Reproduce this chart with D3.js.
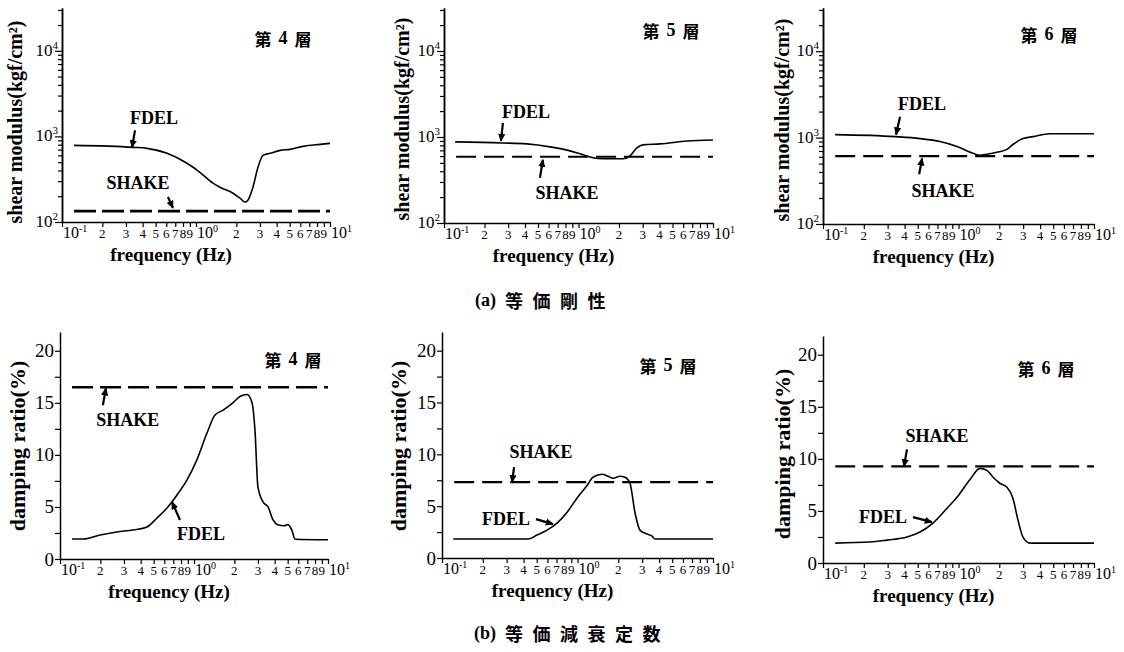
<!DOCTYPE html>
<html><head><meta charset="utf-8">
<script src="https://cdn.jsdelivr.net/npm/d3@7"></script>
<style>
body{margin:0;background:#fff;}
svg{display:block;background:#fff;}
text{font-family:"Liberation Serif","Times New Roman",serif;fill:#000;}
.cjk{font-family:"Noto Sans CJK JP","Noto Sans CJK SC",sans-serif;}
</style></head><body>
<svg id="c" width="1124" height="652"></svg>
<script>
// ---------------- DATA ----------------
const layerNumbers = ["4", "5", "6"];
const layerWord = ["第", "層"];
const groupTitles = [["(a)", "等価剛性"], ["(b)", "等価減衰定数"]];
const modulusLabel = "shear modulus(kgf/cm²)";
const dampingLabel = "damping ratio(%)";
const freqLabel = "frequency (Hz)";

const xTickValues = [0.1,0.2,0.3,0.4,0.5,0.6,0.7,0.8,0.9,1,2,3,4,5,6,7,8,9,10];
const xTickLabels = ["10^-1","2","3","4","5","6","7","8","9","10^0","2","3","4","5","6","7","8","9","10^1"];
const modulusMajorTicks = [100, 1000, 10000];
const modulusMajorLabels = ["10^2", "10^3", "10^4"];
const modulusMinorTicks = [200,300,400,500,600,700,800,900,2000,3000,4000,5000,6000,7000,8000,9000,20000,30000];
const dampingTicks = [0,2.5,5,7.5,10,12.5,15,17.5,20];
const dampingTickLabels = ["0","","5","","10","","15","","20"];

// shear modulus (kgf/cm2), FDEL
const modFreq4 = [0.123,0.339,0.431,0.608,0.857,1.07,1.34,1.51,1.89,2.13,2.32,2.44,2.66,2.90,3.16,3.57,4.24,5.03,6.29,8.42,10];
const modFdel4 = [785,745,725,634,485,381,284,255,217,190,171,180,255,436,601,634,687,706,765,807,829];
const modFreq5 = [0.121,0.270,0.414,0.614,0.865,1.08,1.28,1.52,2.14,2.42,2.72,3.02,4.04,6.41,10];
const modFdel5 = [877,853,831,768,690,621,574,559,559,605,748,809,831,900,924];
const modFreq6 = [0.123,0.340,0.520,0.730,0.975,1.28,1.44,1.62,1.92,2.28,2.52,2.99,3.55,4.73,7.0,10];
const modFdel6 = [1082,1026,974,901,790,658,624,641,676,731,832,974,1026,1110,1110,1110];
// shear modulus, SHAKE (constant)
const modShake = [134, 589, 609];

// damping ratio (%), FDEL
const dampFreq4 = [0.123,0.149,0.199,0.266,0.351,0.446,0.530,0.629,0.747,0.887,1.05,1.25,1.43,1.65,1.95,2.20,2.49,2.71,2.85,3.0,3.27,3.57,3.89,4.2,4.7,5.0,5.4,5.67,10];
const dampFdel4 = [1.92,1.92,2.31,2.60,2.79,3.08,3.94,4.90,6.15,7.60,9.52,12.1,13.8,14.3,15.0,15.6,15.8,15.0,12.4,6.92,5.48,5.0,3.75,3.3,3.2,3.3,2.7,1.9,1.85];
const dampFreq5 = [0.121,0.431,0.503,0.596,0.706,0.838,0.991,1.18,1.30,1.52,1.68,1.83,2.06,2.24,2.44,2.66,2.89,3.26,3.55,3.73,10];
const dampFdel5 = [1.83,1.83,2.21,2.69,3.37,4.42,5.77,7.02,7.79,8.08,7.88,7.69,7.88,7.79,7.21,4.33,2.69,2.31,2.12,1.83,1.83];
const dampFreq6 = [0.123,0.222,0.297,0.417,0.520,0.648,0.823,0.975,1.22,1.44,1.62,1.80,2.02,2.28,2.52,2.75,2.99,3.37,10];
const dampFdel6 = [1.91,2.01,2.20,2.49,2.97,3.83,5.26,6.32,8.04,9.09,8.90,8.23,7.66,7.27,6.22,4.11,2.49,1.91,1.91];
// damping ratio, SHAKE (constant)
const dampShake = [16.5, 7.31, 9.28];
const shakeFreqRange = [0.123, 10];

// arrow anchors (data space): [FDEL, SHAKE]
const modNotes = [
  [{f:0.333, v:745}, {f:0.673, v:146}],
  [{f:0.265, v:900}, {f:0.544, v:544}],
  [{f:0.346, v:1082}, {f:0.539, v:577}]
];
const dampNotes = [
  [{f:0.685, v:5.48}, {f:0.220, v:16.4}],
  [{f:0.659, v:3.27}, {f:0.329, v:7.31}],
  [{f:0.637, v:3.92}, {f:0.396, v:9.28}]
];

// ---------------- LAYOUT ----------------
const topBoxes = [
  {left:62, right:330, top:8, bottom:222, ylab:[15,122], title:[283,38],
   notes:[{tail:[3,-17], lab:[22,-29]}, {tail:[-5,-11], lab:[-35,-25]}], dash:"22,6", dw:2.8},
  {left:444, right:713, top:8, bottom:223, ylab:[402,119], title:[671,30],
   notes:[{tail:[2,-18], lab:[25,-29]}, {tail:[-3,18], lab:[24,33]}], dash:"20,8", dw:2.2},
  {left:823, right:1094, top:8, bottom:224, ylab:[782,120], title:[1049,34],
   notes:[{tail:[4,-18], lab:[26,-31]}, {tail:[-3,16], lab:[21,33]}], dash:"20,8", dw:2.2}
];
const botBoxes = [
  {left:60, right:328, top:332, bottom:559, ylab:[17,446], title:[293,359],
   notes:[{tail:[8,18], lab:[29,32]}, {tail:[-3,17], lab:[22,32]}], dash:"21,7", dw:2.5},
  {left:442, right:713, top:332, bottom:558, ylab:[398,446], title:[668,365],
   notes:[{tail:[-17,-5], lab:[-47,-5]}, {tail:[2,-15], lab:[29,-30]}], dash:"20,8", dw:2.2},
  {left:823, right:1094, top:336, bottom:563, ylab:[782,454], title:[1046,368],
   notes:[{tail:[-19,-5], lab:[-49,-5]}, {tail:[3,-17], lab:[33,-30]}], dash:"20,8", dw:2.2}
];

// ---------------- DRAW ----------------
const svg = d3.select("#c");
svg.append("defs").append("marker")
  .attr("id","ah").attr("viewBox","0 0 10 10").attr("refX",9).attr("refY",5)
  .attr("markerWidth",8).attr("markerHeight",8).attr("markerUnits","userSpaceOnUse")
  .attr("orient","auto")
  .append("path").attr("d","M0,0.5 L10,5 L0,9.5 Z").attr("fill","#000");

function powerText(sel, str, supSize, supDy) {
  const parts = str.split("^");
  sel.append("tspan").text(parts[0]);
  if (parts.length > 1) sel.append("tspan").attr("dy", -supDy).attr("font-size", supSize).text(parts[1]);
}

function styleAxis(g) {
  g.attr("font-family", null).attr("font-size", null);
  g.selectAll("path.domain").attr("stroke","#000").attr("stroke-width",1.5);
  g.selectAll(".tick line").attr("stroke","#000").attr("stroke-width",1.2);
  g.selectAll(".tick text").remove();
}

function drawXAxis(g, x, b) {
  const ax = g.append("g").attr("transform",`translate(0,${b.bottom})`)
    .call(d3.axisBottom(x).tickValues(xTickValues).tickSize(5).tickSizeOuter(0));
  styleAxis(ax);
  xTickValues.forEach((v,i) => {
    const lab = xTickLabels[i];
    const t = g.append("text").attr("y", b.bottom + 16);
    if (lab.indexOf("^") >= 0) {
      t.attr("x", x(v) + 1).attr("text-anchor","start").attr("font-size",16);
      powerText(t, lab, 10, 6);
    } else {
      t.attr("x", x(v)).attr("text-anchor","middle").attr("font-size",13).text(lab);
    }
  });
  g.append("text").attr("x", (b.left+b.right)/2 - 25).attr("y", b.bottom + 32)
    .attr("text-anchor","middle").attr("dominant-baseline","central")
    .attr("font-size",19).attr("font-weight","bold").text(freqLabel);
}

function drawCurves(g, x, y, freqs, vals, shakeVal, b) {
  const pts = freqs.map((f,i) => ({f:f, v:vals[i]}));
  const line = d3.line().x(d => x(d.f)).y(d => y(d.v)).curve(d3.curveMonotoneX);
  g.append("path").datum(pts).attr("d", line)
    .attr("fill","none").attr("stroke","#000").attr("stroke-width",1.6);
  const sh = shakeFreqRange.map(f => ({f:f, v:shakeVal}));
  g.append("path").datum(sh).attr("d", d3.line().x(d => x(d.f)).y(d => y(d.v)))
    .attr("fill","none").attr("stroke","#000").attr("stroke-width",b.dw)
    .attr("stroke-dasharray", b.dash);
}

function drawNotes(g, x, y, notes, b) {
  const names = ["FDEL","SHAKE"];
  notes.forEach((n,i) => {
    const tx = x(n.f), ty = y(n.v);
    const o = b.notes[i];
    g.append("line").attr("x1", tx + o.tail[0]).attr("y1", ty + o.tail[1])
      .attr("x2", tx).attr("y2", ty)
      .attr("stroke","#000").attr("stroke-width",2.2).attr("marker-end","url(#ah)");
    g.append("text").attr("x", tx + o.lab[0]).attr("y", ty + o.lab[1])
      .attr("text-anchor","middle").attr("dominant-baseline","central")
      .attr("font-size",18).attr("font-weight","bold").text(names[i]);
  });
}

function drawTitle(g, b, i) {
  const t = g.append("text").attr("x", b.title[0]).attr("y", b.title[1])
    .attr("text-anchor","middle").attr("dominant-baseline","central")
    .attr("font-size",17).attr("font-weight","bold");
  t.append("tspan").attr("class","cjk").text(layerWord[0]);
  t.append("tspan").attr("dx",7).attr("font-size",18).text(layerNumbers[i]);
  t.append("tspan").attr("class","cjk").attr("dx",7).text(layerWord[1]);
}

// Top row: shear modulus
const modFreqs = [modFreq4, modFreq5, modFreq6];
const modVals = [modFdel4, modFdel5, modFdel6];
topBoxes.forEach((b, i) => {
  const g = svg.append("g");
  const x = d3.scaleLog().domain([0.1, 10]).range([b.left, b.right]);
  const y = d3.scaleLog().domain([100, 31623]).range([b.bottom, b.top]);
  const minor = g.append("g").attr("transform",`translate(${b.left},0)`)
    .call(d3.axisLeft(y).tickValues(modulusMinorTicks).tickSize(4).tickSizeOuter(0));
  styleAxis(minor);
  const major = g.append("g").attr("transform",`translate(${b.left},0)`)
    .call(d3.axisLeft(y).tickValues(modulusMajorTicks).tickSize(7).tickSizeOuter(0));
  styleAxis(major);
  modulusMajorTicks.forEach((v,k) => {
    const t = g.append("text").attr("x", b.left - 4).attr("y", y(v) + 5)
      .attr("text-anchor","end").attr("font-size",17);
    powerText(t, modulusMajorLabels[k], 11, 7);
  });
  drawXAxis(g, x, b);
  g.append("text").attr("transform",`translate(${b.ylab[0]},${b.ylab[1]}) rotate(-90)`)
    .attr("text-anchor","middle").attr("dominant-baseline","central")
    .attr("font-size",20).attr("font-weight","bold").text(modulusLabel);
  drawCurves(g, x, y, modFreqs[i], modVals[i], modShake[i], b);
  drawNotes(g, x, y, modNotes[i], b);
  drawTitle(g, b, i);
});

// Bottom row: damping ratio
const dampFreqs = [dampFreq4, dampFreq5, dampFreq6];
const dampVals = [dampFdel4, dampFdel5, dampFdel6];
botBoxes.forEach((b, i) => {
  const g = svg.append("g");
  const x = d3.scaleLog().domain([0.1, 10]).range([b.left, b.right]);
  const y = d3.scaleLinear().domain([0, 21.8]).range([b.bottom, b.top]);
  const ya = g.append("g").attr("transform",`translate(${b.left},0)`)
    .call(d3.axisLeft(y).tickValues(dampingTicks).tickSize(5).tickSizeOuter(0));
  styleAxis(ya);
  dampingTicks.forEach((v,k) => {
    if (!dampingTickLabels[k]) return;
    g.append("text").attr("x", b.left - 6).attr("y", y(v)).attr("dominant-baseline","central")
      .attr("text-anchor","end").attr("font-size",19).text(dampingTickLabels[k]);
  });
  drawXAxis(g, x, b);
  g.append("text").attr("transform",`translate(${b.ylab[0]},${b.ylab[1]}) rotate(-90)`)
    .attr("text-anchor","middle").attr("dominant-baseline","central")
    .attr("font-size",22).attr("font-weight","bold").text(dampingLabel);
  drawCurves(g, x, y, dampFreqs[i], dampVals[i], dampShake[i], b);
  drawNotes(g, x, y, dampNotes[i], b);
  drawTitle(g, b, i);
});

// group captions
[[545,300],[572,633]].forEach((p,i) => {
  const t = svg.append("text").attr("x", p[0]).attr("y", p[1])
    .attr("text-anchor","middle").attr("dominant-baseline","central")
    .attr("font-size",18).attr("font-weight","bold");
  t.append("tspan").text(groupTitles[i][0]);
  t.append("tspan").attr("class","cjk").attr("dx",9).attr("letter-spacing",9.5).text(groupTitles[i][1]);
});
</script>
</body></html>
